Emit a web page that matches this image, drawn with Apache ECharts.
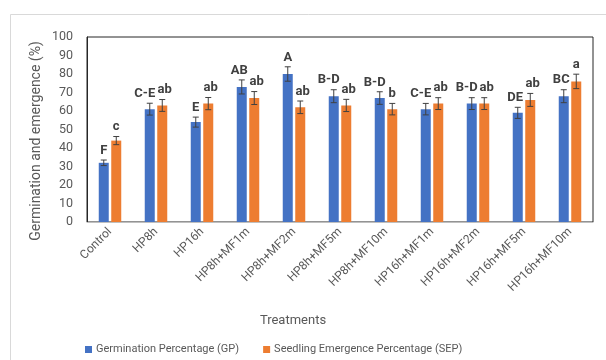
<!DOCTYPE html>
<html><head><meta charset="utf-8">
<script src="https://cdn.jsdelivr.net/npm/echarts@6/dist/echarts.min.js"></script>
<style>html,body{margin:0;padding:0;background:#fff}#c{width:606px;height:360px}</style>
</head><body><div id="c"></div>
<script>
var categories = ['Control','HP8h','HP16h','HP8h+MF1m','HP8h+MF2m','HP8h+MF5m','HP8h+MF10m','HP16h+MF1m','HP16h+MF2m','HP16h+MF5m','HP16h+MF10m'];
var gp = [32,61,54,73,80,68,67,61,64,59,68];
var gpErr = [1.5,3.2,2.7,3.8,3.9,3.5,3.4,3.1,3.2,3.0,3.5];
var gpLetters = ['F','C-E','E','AB','A','B-D','B-D','C-E','B-D','DE','BC'];
var sep = [44,63,64,67,62,63,61,64,64,66,76];
var sepErr = [2.2,3.2,3.3,3.5,3.4,3.3,3.1,3.2,3.2,3.5,3.9];
var sepLetters = ['c','ab','ab','ab','ab','ab','b','ab','ab','ab','a'];
var yTicks = [0,10,20,30,40,50,60,70,80,90,100];

var FONT = 'Roboto, "Noto Sans", sans-serif';
var TXT = '#595959';
var BW = 10, GAP = 2.5;

function errSeries(vals, errs, letters, side) {
  var data = vals.map(function(v,i){ return [i, v, errs[i]]; });
  return {
    type: 'custom', z: 10, silent: true,
    data: data,
    renderItem: function(params, api) {
      var i = api.value(0), v = api.value(1), e = api.value(2);
      var lab = letters[params.dataIndex];
      var off = side * (BW/2 + GAP/2);
      var top = api.coord([i, v + e]);
      var bot = api.coord([i, v - e]);
      var x = top[0] + off;
      var cap = 3;
      var shift = side * (lab.length - 1) * 2.5;
      var st = {stroke:'#404040', lineWidth:1};
      return {type:'group', children:[
        {type:'line', shape:{x1:x,y1:top[1],x2:x,y2:bot[1]}, style:st},
        {type:'line', shape:{x1:x-cap,y1:top[1],x2:x+cap,y2:top[1]}, style:st},
        {type:'line', shape:{x1:x-cap,y1:bot[1],x2:x+cap,y2:bot[1]}, style:st},
        {type:'text', x: x + shift, y: top[1] - 3, style:{text: lab, fill:'#404040', font:'bold 13px ' + FONT, align:'center', verticalAlign:'bottom'}}
      ]};
    }
  };
}

var chart = echarts.init(document.getElementById('c'), null, {renderer:'canvas'});
chart.setOption({
  animation: false,
  backgroundColor: '#fff',
  grid: {left: 87, right: 13, top: 37, bottom: 138, show: true, borderColor: '#262626', borderWidth: 1, containLabel: false},
  legend: {
    left: 80, top: 339, itemWidth: 7, itemHeight: 7, itemGap: 24, icon: 'rect',
    textStyle: {color: TXT, fontSize: 11, fontFamily: FONT, padding:[0,0,0,-1]},
    data: ['Germination Percentage (GP)', 'Seedling Emergence Percentage (SEP)']
  },
  xAxis: {
    type: 'category', data: categories,
    axisLine: {lineStyle: {color: '#bfbfbf'}},
    axisTick: {show: false},
    axisLabel: {rotate: 45, color: TXT, fontSize: 12, fontFamily: FONT, margin: 8, interval: 0}
  },
  yAxis: {
    type: 'value', min: 0, max: 100, interval: 10,
    axisLine: {show: true, lineStyle: {color: '#262626'}},
    axisTick: {show: false},
    splitLine: {show: false},
    axisLabel: {color: TXT, fontSize: 12.5, fontFamily: FONT, margin: 14,
      formatter: function(v){ return yTicks.indexOf(v) >= 0 ? String(v) : ''; }}
  },
  graphic: [
    {type:'rect', shape:{x:10.5,y:14.5,width:700,height:400}, style:{fill:'none', stroke:'#d9d9d9', lineWidth:1}, silent:true},
    {type:'text', x:36, y:141, rotation:Math.PI/2, style:{text:'Germination and emergence (%)', fill:TXT, font:'14px ' + FONT, align:'center', verticalAlign:'middle'}},
    {type:'text', x:293, y:321, style:{text:'Treatments', fill:TXT, font:'13px ' + FONT, align:'center', verticalAlign:'middle'}}
  ],
  series: [
    {name:'Germination Percentage (GP)', type:'bar', data: gp, barWidth: BW, barGap: '25%', itemStyle:{color:'#4472C4'}},
    {name:'Seedling Emergence Percentage (SEP)', type:'bar', data: sep, barWidth: BW, barGap: '25%', itemStyle:{color:'#ED7D31'}},
    errSeries(gp, gpErr, gpLetters, -1),
    errSeries(sep, sepErr, sepLetters, 1)
  ]
});
</script></body></html>
